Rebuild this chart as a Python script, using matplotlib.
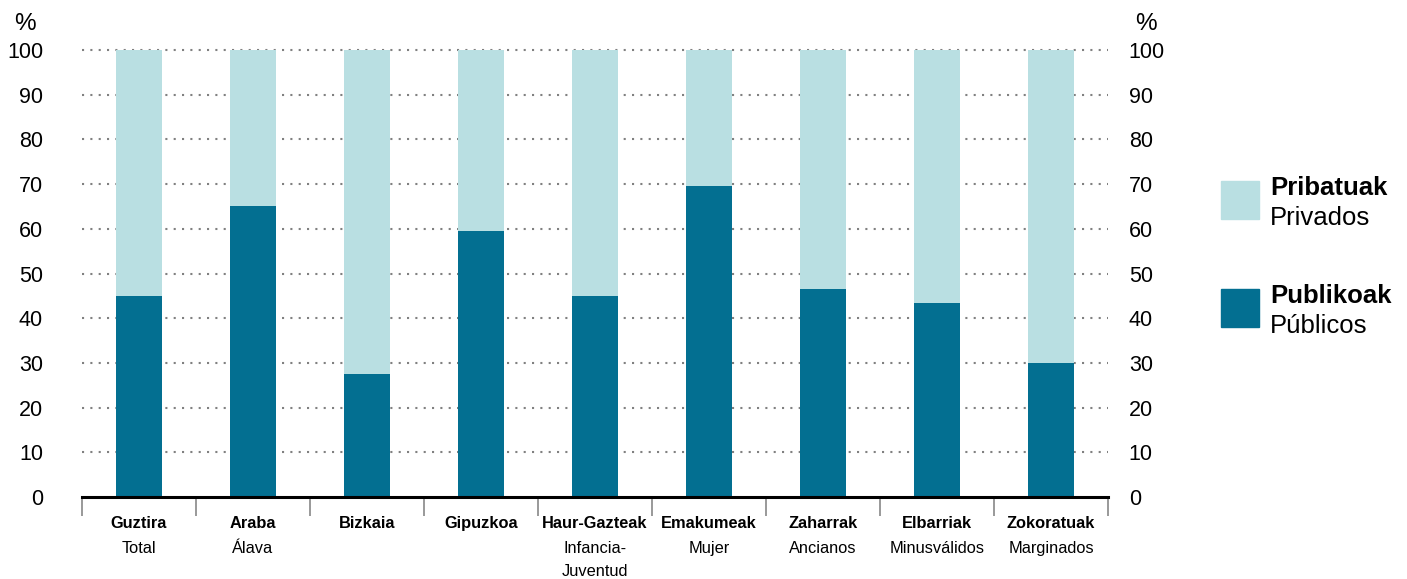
import numpy as np
import matplotlib.pyplot as plt
from matplotlib.patches import Rectangle

plt.rcParams['font.family'] = ['Liberation Sans', 'DejaVu Sans']

# data
eus_labels = ['Guztira', 'Araba', 'Bizkaia', 'Gipuzkoa', 'Haur-Gazteak',
              'Emakumeak', 'Zaharrak', 'Elbarriak', 'Zokoratuak']
es_labels = [['Total'], ['Álava'], [], [], ['Infancia-', 'Juventud'],
             ['Mujer'], ['Ancianos'], ['Minusválidos'], ['Marginados']]
publikoak = [45, 65, 27.5, 59.5, 45, 69.5, 46.5, 43.5, 30]
pribatuak = [100 - v for v in publikoak]

dark = '#036F91'
light = '#B9DFE2'

fig = plt.figure(figsize=(14.07, 5.79), dpi=100)
W, H = 1407, 579
ax = fig.add_axes([82 / W, 82 / H, (1108 - 82) / W, (497 - 50) / H])

x = np.arange(len(eus_labels))
ax.bar(x, publikoak, width=0.41, color=dark, zorder=3)
ax.bar(x, pribatuak, bottom=publikoak, width=0.41, color=light, zorder=3)

ax.set_xlim(-0.5, len(x) - 0.5)
ax.set_ylim(0, 100)
for y in range(10, 101, 10):
    ax.axhline(y, color='#808080', lw=1.5, ls=(0, (1, 3)), zorder=1, clip_on=False)

for s in ['top', 'right', 'left']:
    ax.spines[s].set_visible(False)
ax.spines['bottom'].set_linewidth(2.2)
ax.spines['bottom'].set_color('black')
ax.spines['bottom'].set_zorder(4)

ax.set_yticks(range(0, 101, 10))
ax.tick_params(axis='y', length=0, labelsize=15.5, pad=28)

# right side labels
ax2 = ax.twinx()
ax2.set_ylim(0, 100)
ax2.set_yticks(range(0, 101, 10))
ax2.tick_params(axis='y', length=0, labelsize=15.5, pad=15)
for s in ['top', 'right', 'left', 'bottom']:
    ax2.spines[s].set_visible(False)

# category separator ticks
ax.set_xticks(np.arange(-0.5, len(x), 1.0))
ax.set_xticklabels([])
ax.tick_params(axis='x', length=14, width=1.2, color='#888888', direction='out')

px = 100 / (497 - 50)  # data units per pixel
for i in x:
    ax.text(i, -31 * px, eus_labels[i], ha='center', va='baseline', fontsize=11.8,
            fontweight='bold', clip_on=False)
    for j, line in enumerate(es_labels[i]):
        ax.text(i, -(56 + 23 * j) * px, line, ha='center', va='baseline',
                fontsize=11.8, clip_on=False)

fig.text(25 / W, 1 - 24 / H, '%', ha='center', va='center', fontsize=17.5)
fig.text(1146 / W, 1 - 24 / H, '%', ha='center', va='center', fontsize=17.5)

# legend
for (ytop, col, t1, t2) in [(181, light, 'Pribatuak', 'Privados'),
                           (289, dark, 'Publikoak', 'Públicos')]:
    fig.patches.append(Rectangle((1221 / W, 1 - (ytop + 38) / H), 38 / W, 38 / H,
                                 transform=fig.transFigure, color=col))
    fig.text(1270 / W, 1 - (ytop + 14) / H, t1, ha='left', va='baseline',
             fontsize=18.5, fontweight='bold')
    fig.text(1270 / W, 1 - (ytop + 44) / H, t2, ha='left', va='baseline',
             fontsize=18.5)

fig.savefig('out.png', dpi=100)
